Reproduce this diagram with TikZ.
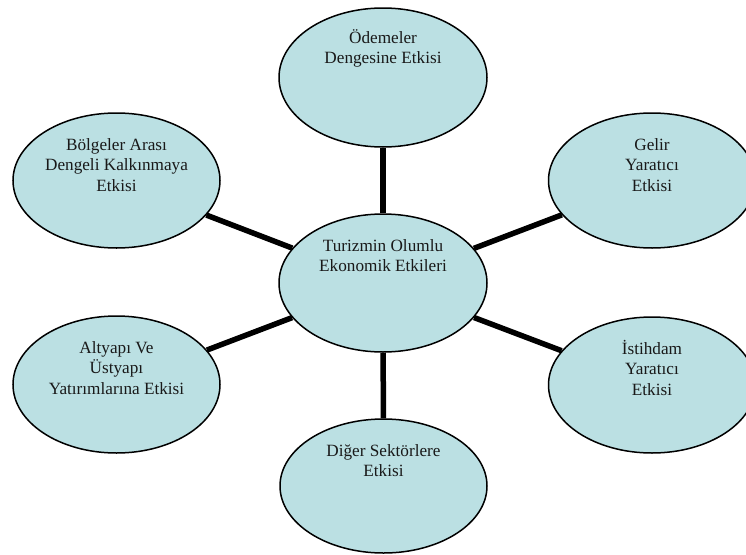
\documentclass[tikz,border=0pt]{standalone}
\usepackage{fontspec}
\setmainfont{Liberation Serif}
\usetikzlibrary{shapes.geometric}
\definecolor{ellfill}{RGB}{187,224,227}
\tikzset{
  ell/.style={ellipse, draw=black, line width=1.5pt, fill=ellfill, inner sep=0pt},
  ltxt/.style={anchor=north, inner sep=0pt, align=center, text=black!90,
    font=\fontsize{17.2}{20.5}\selectfont},
  conn/.style={line width=5.5pt, draw=black}
}
\newcommand{\fl}{\rule{0pt}{16pt}}
\begin{document}
\begin{tikzpicture}[x=1pt,y=-1pt]
\clip (0,0) rectangle (746,554);
\fill[white] (0,0) rectangle (746,554);
% ellipses
\node[ell, minimum width=208pt, minimum height=138pt] (c)  at (383,283) {};
\node[ell, minimum width=208pt, minimum height=139pt] (t)  at (383,77.5) {};
\node[ell, minimum width=207pt, minimum height=134pt] (b)  at (383.5,486) {};
\node[ell, minimum width=207pt, minimum height=135pt] (lt) at (116.5,180.5) {};
\node[ell, minimum width=207pt, minimum height=137pt] (lb) at (116.5,384.5) {};
\node[ell, minimum width=207pt, minimum height=135pt] (rt) at (652,180.5) {};
\node[ell, minimum width=207pt, minimum height=136pt] (rb) at (652,385) {};
% connectors
\draw[conn] (c) -- (t);
\draw[conn] (c) -- (b);
\draw[conn] (c) -- (lt);
\draw[conn] (c) -- (lb);
\draw[conn] (c) -- (rt);
\draw[conn] (c) -- (rb);
% texts
\node[ltxt] (ct)  at (383,235)   {\fl Turizmin Olumlu\\Ekonomik Etkileri};
\node[ltxt] (tt)  at (383,27)    {\fl Ödemeler\\Dengesine Etkisi};
\node[ltxt] (bt)  at (383.5,440) {\fl Diğer Sektörlere\\Etkisi};
\node[ltxt] (ltt) at (116.5,134) {\fl Bölgeler Arası\\Dengeli Kalkınmaya\\Etkisi};
\node[ltxt] (lbt) at (116.5,337) {\fl Altyapı Ve\\Üstyapı\\Yatırımlarına Etkisi};
\node[ltxt] (rtt) at (652,134)   {\fl Gelir\\Yaratıcı\\Etkisi};
\node[ltxt] (rbt) at (652,338)   {\fl İstihdam\\Yaratıcı\\Etkisi};
\end{tikzpicture}
\end{document}
